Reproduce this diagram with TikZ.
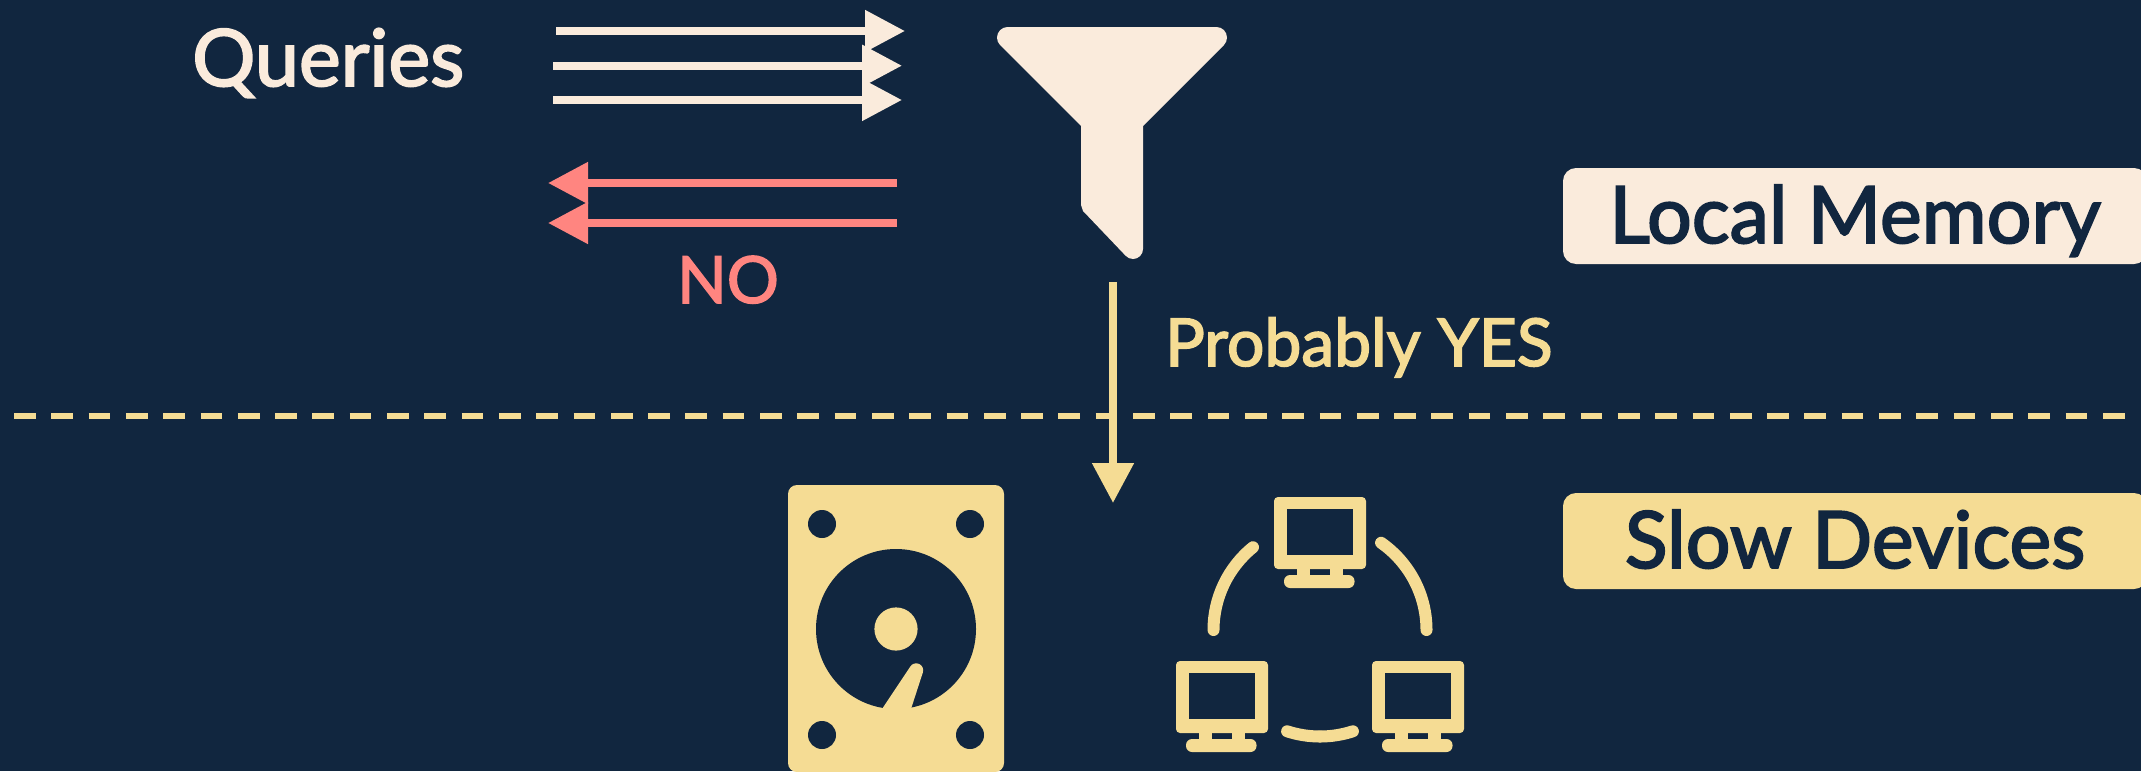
\documentclass[tikz,border=0pt]{standalone}
\usepackage{fontspec}
\setmainfont{Lato}[FakeBold=2.4]
\usetikzlibrary{arrows.meta,positioning,calc}
\definecolor{navy}{HTML}{11263F}
\definecolor{cream}{HTML}{FAEBDC}
\definecolor{sand}{HTML}{F5DC94}
\definecolor{coral}{HTML}{FF8580}
\tikzset{
    arrow/.style={-{Triangle[length=40pt,width=40pt]},line width=8pt},
    divider/.style={sand,line width=6pt,dash pattern=on 21.7pt off 15.6pt},
    ring/.style={sand,line width=12pt,line cap=round},
    tag/.style={inner sep=0pt,anchor=base west,font=\fontsize{79}{80}\selectfont},
    labelbox/.style={rounded corners=13pt,inner sep=0pt,minimum width=584pt,minimum height=96pt,
        text height=70pt,text depth=16pt,text=navy,font=\fontsize{79}{80}\selectfont}
}
\begin{document}
\begin{tikzpicture}[x=1pt,y=-1pt]
    \clip (0,0) rectangle (2141,771);
    \fill[navy] (0,0) rectangle (2141,771);

    \node[tag,text=cream] (queries) at (192,86) {Queries};
    \node[tag,text=coral,font=\fontsize{65}{70}\selectfont] (no) at (677,303) {NO};
    \node[tag,text=sand,font=\fontsize{66}{70}\selectfont] (yes) at (1165,366) {Probably YES};
    \node[labelbox,fill=cream] (local) at (1855,216) {Local Memory};
    \node[labelbox,fill=sand] (slow) at (1855,541) {Slow Devices};

    \coordinate (q1a) at (556,31);
    \coordinate (q1b) at (905,31);
    \coordinate (q2a) at (553,65.7);
    \coordinate (q2b) at (902,65.7);
    \coordinate (q3a) at (553,100);
    \coordinate (q3b) at (902,100);
    \coordinate (n1a) at (897,183);
    \coordinate (n1b) at (548,183);
    \coordinate (n2a) at (897,223);
    \coordinate (n2b) at (548,223);
    \coordinate (ya) at (1113,282);
    \coordinate (yb) at (1113,503);
    \coordinate (dl) at (14,416);
    \coordinate (dr) at (2127,416);

    \draw[arrow,cream] (q1a) -- (q1b);
    \draw[arrow,cream] (q2a) -- (q2b);
    \draw[arrow,cream] (q3a) -- (q3b);
    \draw[arrow,coral] (n1a) -- (n1b);
    \draw[arrow,coral] (n2a) -- (n2b);
    \draw[divider] (dl) -- (dr);
    \draw[arrow,sand] (ya) -- (yb);

    \fill[cream] (1081,126) -- (1000.1,45.1) arc[start angle=135,end angle=270,radius=10.6]
        -- (1216.4,27) arc[start angle=270,end angle=405,radius=10.6] -- (1143,126) -- (1143,249)
        arc[start angle=0,end angle=137,radius=10] -- (1083,211) -- (1081,205) -- cycle;

    \fill[sand,rounded corners=9pt] (788,485) rectangle (1004,772);
    \foreach \hx in {822,970}
        \foreach \hy in {524,735}
            \fill[navy] (\hx,\hy) circle[radius=14];
    \fill[navy] (896,629) circle[radius=80];
    \fill[sand] (896,629) circle[radius=21.6];
    \fill[sand] (880,712) -- (910,667) arc[start angle=208,end angle=380,radius=7] -- (910,712) -- cycle;

    \foreach \dx/\dy in {0/0,-98/164,98/164} {
        \begin{scope}[shift={(\dx,\dy)}]
            \fill[sand,rounded corners=4pt] (1274,497) rectangle (1366,569);
            \fill[navy] (1287,509) rectangle (1353,555);
            \fill[sand] (1297,568) rectangle (1310,577);
            \fill[sand] (1330,568) rectangle (1343,577);
            \fill[sand,rounded corners=6pt] (1284,575) rectangle (1354.5,588);
        \end{scope}
    }

    \coordinate (ringc) at (1320,630);
    \draw[ring] ($(ringc)+(-106.5,0)$) arc[start angle=180,end angle=231,radius=106.5];
    \draw[ring] ($(ringc)+(106.5,0)$) arc[start angle=360,end angle=305,radius=106.5];
    \draw[ring] ($(ringc)+(0,106.5)$) arc[start angle=90,end angle=72,radius=106.5];
    \draw[ring] ($(ringc)+(0,106.5)$) arc[start angle=90,end angle=108,radius=106.5];
\end{tikzpicture}
\end{document}
